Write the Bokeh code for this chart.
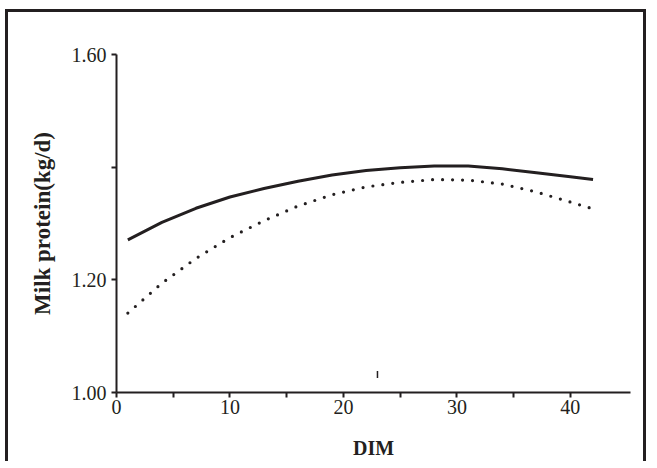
from bokeh.plotting import figure
from bokeh.models import Range1d, FixedTicker
from bokeh.embed import file_html
from bokeh.resources import INLINE
from math import pi

# Data
dim = [1, 4, 7, 10, 13, 16, 19, 22, 25, 28, 31, 34, 37, 40, 42]
protein_solid = [1.271, 1.302, 1.327, 1.347, 1.362, 1.375, 1.386, 1.394, 1.399,
                 1.402, 1.402, 1.397, 1.390, 1.383, 1.378]
protein_dotted = [1.141, 1.194, 1.238, 1.275, 1.305, 1.331, 1.351, 1.365, 1.373,
                  1.378, 1.377, 1.370, 1.356, 1.338, 1.326]
x_ticks = [0, 5, 10, 15, 20, 25, 30, 35, 40]
x_tick_labels = {0: "0", 5: "", 10: "10", 15: "", 20: "20", 25: "", 30: "30", 35: "", 40: "40"}
y_ticks = [1.0, 1.2, 1.4, 1.6]
y_tick_labels = {1.0: "1.00", 1.2: "1.20", 1.4: "", 1.6: "1.60"}
stray_x = [23]
stray_y = [1.032]

INK = "#231f20"
FONT = "Liberation Serif"

p = figure(width=641, height=452, output_backend="svg", toolbar_location=None,
           x_range=Range1d(0, 45.3), y_range=Range1d(1.0, 1.6),
           min_border_left=108, min_border_right=19, min_border_top=42, min_border_bottom=72)
p.styles = {"margin": "9px 0px 0px 5px",
            "border-left": f"3px solid {INK}", "border-top": f"3px solid {INK}",
            "border-right": f"3px solid {INK}"}
p.outline_line_color = None
p.grid.visible = False
p.background_fill_color = "white"
p.border_fill_color = "white"

p.line(dim, protein_solid, line_color=INK, line_width=3)
p.line(dim, protein_dotted, line_color=INK, line_width=3.2, line_dash="0 10", line_cap="round")
p.scatter(stray_x, stray_y, marker="dash", angle=pi / 2, size=7, line_color=INK, line_width=1.5)

for ax in (p.xaxis[0], p.yaxis[0]):
    ax.axis_line_color = INK
    ax.axis_line_width = 2
    ax.major_tick_line_color = INK
    ax.major_tick_line_width = 2
    ax.major_tick_out = 5
    ax.major_tick_in = 0
    ax.minor_tick_line_color = None
    ax.major_label_text_font = FONT
    ax.major_label_text_font_size = "20px"
    ax.major_label_text_color = INK
    ax.axis_label_text_font = FONT
    ax.axis_label_text_font_style = "bold"
    ax.axis_label_text_color = INK

p.xaxis.ticker = FixedTicker(ticks=x_ticks)
p.xaxis.major_label_overrides = x_tick_labels
p.xaxis.axis_label = "DIM"
p.xaxis.axis_label_text_font_size = "20px"
p.xaxis.major_label_standoff = 2
p.xaxis.axis_label_standoff = 20

p.yaxis.ticker = FixedTicker(ticks=y_ticks)
p.yaxis.major_label_overrides = y_tick_labels
p.yaxis.axis_label = "Milk protein(kg/d)"
p.yaxis.axis_label_text_font_size = "23px"
p.yaxis.major_label_standoff = 5
p.yaxis.axis_label_standoff = 14

open("out.html", "w").write(file_html(p, INLINE))
